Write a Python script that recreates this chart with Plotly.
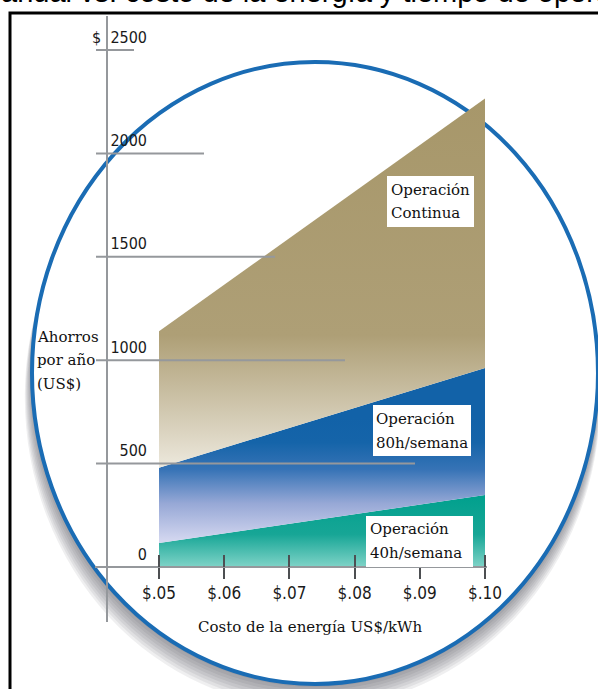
import plotly.graph_objects as go

# Energy price (US$/kWh) at both ends of the chart
costo = [0.05, 0.10]
# Annual savings (US$) for each operating schedule
ahorro_continua = [1140, 2265]
ahorro_80h = [480, 962]
ahorro_40h = [116, 348]

x_tickvals = [0.05, 0.06, 0.07, 0.08, 0.09, 0.10]
x_ticktext = ["$.05", "$.06", "$.07", "$.08", "$.09", "$.10"]
y_tickvals = [0, 500, 1000, 1500, 2000, 2500]
y_ticktext = ["0", "500", "1000", "1500", "2000", "$\u00a0\u00a02500"]

# ---- page geometry (pixels) ----
W, H = 598, 689


def fx(p):
    return p / W


def fy(p):
    return 1 - p / H


PX_X05 = 159          # pixel column of $.05
PX_PER_UNIT_X = 6520  # pixels per US$/kWh
PX_Y0 = 567           # pixel row of 0
PX_PER_UNIT_Y = 0.2068

X_DOM_PX = (95, 487)
Y_DOM_PX = (16, 622)
x_range = [0.05 + (X_DOM_PX[0] - PX_X05) / PX_PER_UNIT_X,
           0.05 + (X_DOM_PX[1] - PX_X05) / PX_PER_UNIT_X]
y_range = [(PX_Y0 - Y_DOM_PX[1]) / PX_PER_UNIT_Y,
           (PX_Y0 - Y_DOM_PX[0]) / PX_PER_UNIT_Y]

NARROW = "DejaVu Sans Condensed, Liberation Sans Narrow, sans-serif"
SERIF = "DejaVu Serif, Liberation Serif, serif"
AXIS_GRAY = "#95989c"
TICK_GRAY = "#4d4f52"
RING_BLUE = "#1a6cb4"

fig = go.Figure()

fig.add_trace(go.Scatter(
    x=costo, y=ahorro_40h, mode="lines", line=dict(width=0),
    fill="tozeroy",
    fillgradient=dict(type="vertical", start=0, stop=350,
                      colorscale=[[0, "#7fd3c7"], [0.45, "#17a696"], [1, "#00a08d"]]),
    hoverinfo="skip", showlegend=False))

fig.add_trace(go.Scatter(
    x=costo, y=ahorro_80h, mode="lines", line=dict(width=0),
    fill="tonexty",
    fillgradient=dict(type="vertical", start=130, stop=720,
                      colorscale=[[0, "#d2d6ef"], [0.3, "#97a8d6"], [0.58, "#3673b6"],
                                  [0.8, "#1564a9"], [1, "#1262a8"]]),
    hoverinfo="skip", showlegend=False))

fig.add_trace(go.Scatter(
    x=costo, y=ahorro_continua, mode="lines", line=dict(width=0),
    fill="tonexty",
    fillgradient=dict(type="vertical", start=420, stop=2265,
                      colorscale=[[0, "#f3f0e7"], [0.12, "#dcd5c2"], [0.38, "#ae9f76"],
                                  [1, "#a7976a"]]),
    hoverinfo="skip", showlegend=False))

# invisible companion trace so the overlay axes (upper ticks, value labels) render
fig.add_trace(go.Scatter(
    x=costo, y=ahorro_40h, xaxis="x2", yaxis="y2", mode="lines",
    line=dict(width=0), hoverinfo="skip", showlegend=False))

shapes = []

# soft drop shadow under the ring
for dy in (3, 6, 9, 12, 15, 18, 21, 24):
    shapes.append(dict(type="circle", xref="paper", yref="paper", layer="below",
                       x0=fx(32 - dy * 0.3), x1=fx(598 + dy * 0.1),
                       y0=fy(684 + dy), y1=fy(62 + dy),
                       fillcolor="rgba(70,75,80,0.085)", line=dict(width=0)))
# the white disc with its blue ring
shapes.append(dict(type="circle", xref="paper", yref="paper", layer="below",
                   x0=fx(32), x1=fx(598), y0=fy(684), y1=fy(62),
                   fillcolor="white", line=dict(color=RING_BLUE, width=4)))

# outer black frame
shapes.append(dict(type="rect", xref="paper", yref="paper", layer="above",
                   x0=fx(10), x1=fx(640), y0=fy(13), y1=fy(740),
                   line=dict(color="black", width=3), fillcolor="rgba(0,0,0,0)"))

# staggered horizontal guide lines
guide_end_px = {500: 415, 1000: 345, 1500: 275, 2000: 204, 2500: 134}
for val, end in guide_end_px.items():
    shapes.append(dict(type="line", xref="paper", yref="y", layer="above",
                       x0=fx(96), x1=fx(end), y0=val, y1=val,
                       line=dict(color=AXIS_GRAY, width=2)))

# white label boxes
label_boxes = [(387, 474, 176, 227), (373, 471, 405, 456), (366, 473, 516, 567)]
for x0, x1, y0, y1 in label_boxes:
    shapes.append(dict(type="rect", xref="paper", yref="paper", layer="above",
                       x0=fx(x0), x1=fx(x1), y0=fy(y1), y1=fy(y0),
                       fillcolor="white", line=dict(width=0)))

annotations = []


def text_at(px, py, s, size=15, family=SERIF, xanchor="left", color="#111"):
    annotations.append(dict(xref="paper", yref="paper", x=fx(px), y=fy(py),
                            text=s, showarrow=False, xanchor=xanchor,
                            yanchor="middle", align="left",
                            font=dict(family=family, size=size, color=color)))


# series labels
text_at(389, 190, "Operación")
text_at(389, 213, "Continua")
text_at(374, 419, "Operación")
text_at(374, 443, "80h/semana")
text_at(368, 529, "Operación")
text_at(368, 553, "40h/semana")

# y axis title
text_at(35, 337, "Ahorros")
text_at(35, 360, "por año")
text_at(35, 384, "(US$)")

# x axis title
text_at(310, 627, "Costo de la energía US$/kWh", xanchor="center")

# heading running off the top of the page
annotations.append(dict(xref="paper", yref="paper", x=fx(-1), y=fy(10),
                        text="anual vs. costo de la energía y tiempo de operación",
                        showarrow=False, xanchor="left", yanchor="bottom",
                        font=dict(family="Liberation Sans, Arial, sans-serif",
                                  size=29, color="black")))

fig.update_layout(
    width=W, height=H,
    margin=dict(l=0, r=0, t=0, b=0, autoexpand=False),
    paper_bgcolor="white", plot_bgcolor="rgba(0,0,0,0)",
    showlegend=False,
    shapes=shapes,
    annotations=annotations,
    xaxis=dict(domain=[fx(X_DOM_PX[0]), fx(X_DOM_PX[1])], range=x_range,
               anchor="free", position=fy(PX_Y0), automargin=False,
               showgrid=False, zeroline=False,
               showline=True, linecolor=AXIS_GRAY, linewidth=2,
               ticks="outside", ticklen=11, tickwidth=2, tickcolor=TICK_GRAY,
               tickvals=x_tickvals, ticktext=x_ticktext,
               tickfont=dict(family=NARROW, size=17, color="#1a1a1a")),
    xaxis2=dict(domain=[fx(X_DOM_PX[0]), fx(X_DOM_PX[1])], range=x_range,
                overlaying="x", anchor="free", position=fy(PX_Y0), automargin=False,
                showgrid=False, zeroline=False, showline=False,
                ticks="inside", ticklen=12, tickwidth=2, tickcolor=TICK_GRAY,
                tickvals=x_tickvals, showticklabels=False),
    yaxis=dict(domain=[fy(Y_DOM_PX[1]), fy(Y_DOM_PX[0])], range=y_range,
               anchor="free", position=fx(107), automargin=False,
               showgrid=False, zeroline=False,
               showline=True, linecolor=AXIS_GRAY, linewidth=2,
               ticks="", showticklabels=False),
    yaxis2=dict(domain=[fy(Y_DOM_PX[1]), fy(Y_DOM_PX[0])], range=y_range,
                overlaying="y", anchor="free", position=fx(147), side="left",
                automargin=False,
                showgrid=False, zeroline=False, showline=False, ticks="",
                tickvals=y_tickvals, ticktext=y_ticktext,
                ticklabelshift=-13, ticklabelstandoff=0,
                tickfont=dict(family=NARROW, size=16, color="#1a1a1a")),
)

fig.write_html("out.html")
